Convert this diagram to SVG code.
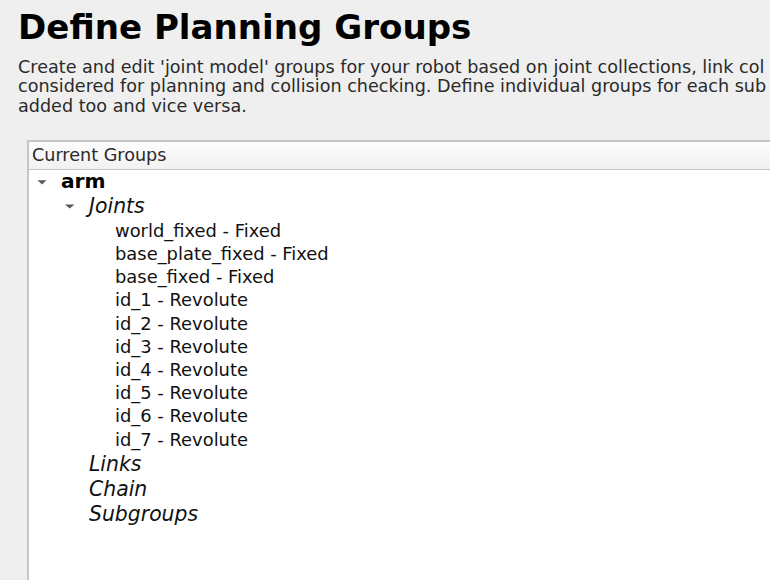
<svg xmlns="http://www.w3.org/2000/svg" width="770" height="580" viewBox="0 0 770 580">
<defs>
<linearGradient id="hdr" x1="0" y1="0" x2="0" y2="1">
<stop offset="0" stop-color="#fdfdfd"/>
<stop offset="1" stop-color="#f1f1f1"/>
</linearGradient>
</defs>
<style>
text{font-family:"DejaVu Sans","Noto Sans",sans-serif;fill:#1c1c1c}
.title{font-size:34.1px;font-weight:bold;fill:#000}
.para{font-size:17.6px;fill:#2a2a2a}
.hdr{font-size:17.6px;fill:#2a2a2a}
.grp{font-size:20.2px;font-weight:bold;fill:#000}
.cat{font-size:20.4px;font-style:italic;fill:#111}
.item{font-size:17.9px;fill:#111}
.tri{fill:#5a5a5a}
</style>
<rect width="770" height="580" fill="#efefef"/>
<g id="title"><text class="title" x="18" y="38.5">Define Planning Groups</text></g>
<g id="description">
<text class="para" x="18" y="72.5">Create and edit 'joint model' groups for your robot based on joint collections, link col</text>
<text class="para" x="18" y="92">considered for planning and collision checking. Define individual groups for each sub</text>
<text class="para" x="18" y="111.5">added too and vice versa.</text>
</g>
<g id="panel">
<rect x="28" y="141" width="750" height="445" fill="#ffffff" stroke="#c6c6c6" stroke-width="2"/>
<rect x="29" y="142" width="745" height="27" fill="url(#hdr)"/>
<line x1="29" y1="169.5" x2="770" y2="169.5" stroke="#c6c6c6" stroke-width="1"/>
<text class="hdr" x="32" y="161">Current Groups</text>
</g>
<g id="connectors"></g>
<g id="node-arm">
<path class="tri" d="M37.5 180.3 L46.5 180.3 L42 184.5 Z"/>
<text class="grp" x="61" y="188">arm</text>
</g>
<g id="node-joints">
<path class="tri" d="M65 204.5 L74.5 204.5 L69.7 208.6 Z"/>
<text class="cat" x="89" y="213">Joints</text>
</g>
<g id="joint-items">
<text class="item" x="115" y="237">world_fixed - Fixed</text>
<text class="item" x="115" y="260">base_plate_fixed - Fixed</text>
<text class="item" x="115" y="283">base_fixed - Fixed</text>
<text class="item" x="115" y="306">id_1 - Revolute</text>
<text class="item" x="115" y="330">id_2 - Revolute</text>
<text class="item" x="115" y="353">id_3 - Revolute</text>
<text class="item" x="115" y="376">id_4 - Revolute</text>
<text class="item" x="115" y="399">id_5 - Revolute</text>
<text class="item" x="115" y="422">id_6 - Revolute</text>
<text class="item" x="115" y="446">id_7 - Revolute</text>
</g>
<g id="node-links"><text class="cat" x="89" y="471">Links</text></g>
<g id="node-chain"><text class="cat" x="89" y="496">Chain</text></g>
<g id="node-subgroups"><text class="cat" x="89" y="521">Subgroups</text></g>
</svg>
